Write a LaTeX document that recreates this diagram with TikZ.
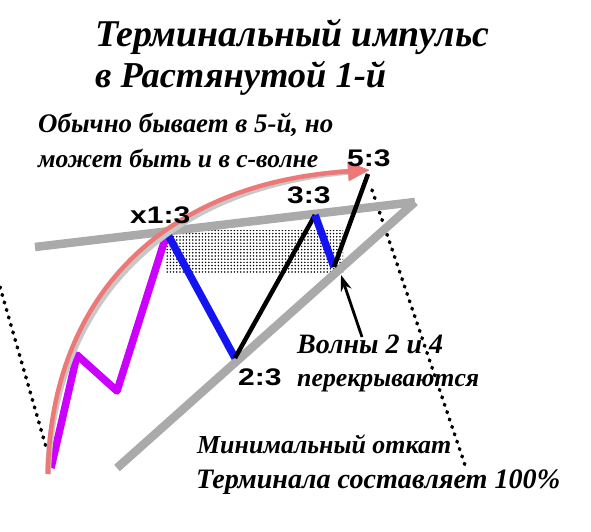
\documentclass[tikz,border=0pt]{standalone}
\usepackage{fontspec}
\setmainfont{Liberation Serif}
\newfontfamily\scrfont{Liberation Serif}
\newfontfamily\lblfont{Liberation Sans}
\usetikzlibrary{arrows.meta,patterns}
\pgfdeclarepatternformonly{stipple}{\pgfqpoint{-1pt}{-1pt}}{\pgfqpoint{4pt}{4pt}}{\pgfqpoint{3.2pt}{3.2pt}}{%
  \pgfpathcircle{\pgfqpoint{0.8pt}{0.8pt}}{0.85pt}\pgfusepath{fill}}
\definecolor{wgray}{RGB}{170,170,170}
\definecolor{wmag}{RGB}{204,0,255}
\definecolor{wblue}{RGB}{20,20,240}
\definecolor{wpink}{RGB}{238,120,120}
\definecolor{wshadow}{RGB}{200,200,200}
\newcommand{\fitw}[2]{\resizebox{#1}{!}{\scrfont\bfseries\itshape #2}}
\newcommand{\lb}[1]{\scalebox{1.25}[1]{\lblfont\bfseries\fontsize{24}{24}\selectfont #1}}
\begin{document}
\begin{tikzpicture}[x=1pt,y=-1pt,
  gline/.style={draw=wgray,line width=8.5pt},
  magline/.style={draw=wmag,line width=7.5pt,line join=round},
  blueline/.style={draw=wblue,line width=7.5pt},
  blackline/.style={draw=black,line width=4.5pt},
  pinkarc/.style={draw=wpink,line width=4.5pt,-{Triangle[length=22pt,width=18pt]}},
  shadowarc/.style={draw=wshadow,line width=6pt,-{Triangle[length=22pt,width=18pt]}},
  dotline/.style={draw=black,line width=3.6pt,dash pattern=on 1pt off 6.8pt,line cap=round},
  txt/.style={anchor=base west,inner sep=0pt},
  lbl/.style={anchor=base west,inner sep=0pt}]
\useasboundingbox (0,0) rectangle (591,532);
\fill[white] (0,0) rectangle (591,532);
% points
\coordinate (w0) at (51,468);
\coordinate (w1a) at (77,355);
\coordinate (w1b) at (117,391);
\coordinate (x1) at (167,233);
\coordinate (p2) at (235,358);
\coordinate (p3) at (315,215);
\coordinate (p4) at (334,267);
\coordinate (p5) at (368,174);
\coordinate (gtip) at (415,202);
\coordinate (gu) at (35,247);
\coordinate (gl) at (117,468);
\coordinate (a0) at (48,474);
\coordinate (a1) at (370,170);
\coordinate (d1s) at (0,287);
\coordinate (d1e) at (46,447);
\coordinate (d2s) at (372,190);
\coordinate (d2e) at (466,468);
\coordinate (at) at (362,337);
\coordinate (ah) at (341,275);
% dotted overlap zone
\fill[pattern=stipple,pattern color=black] (165,230) rectangle (343,272);
% dotted lines
\draw[dotline] (d1s) -- (d1e);
\draw[dotline] (d2s) -- (d2e);
% channel lines
\draw[gline] (gu) -- (gtip);
\draw[gline] (gl) -- (gtip);
% waves
\draw[magline] (w0) -- (w1a) -- (w1b) -- (x1);
\draw[blueline] (x1) -- (p2);
\draw[blackline] (p2) -- (p3);
\draw[blueline] (p3) -- (p4);
\draw[blackline] (p4) -- (p5);
% pink arc with shadow
\begin{scope}[xshift=3pt,yshift=-4pt]
\draw[shadowarc] (a0) .. controls (50,300) and (160,183) .. (a1);
\end{scope}
\draw[pinkarc] (a0) .. controls (50,300) and (160,183) .. (a1);
% pointer arrow
\draw[black,line width=2.8pt,-{Stealth[length=16pt,width=11pt]}] (at) -- (ah);
% labels
\node[lbl] (lx1) at (130,223) {\lb{x1:3}};
\node[lbl] (l33) at (287,203) {\lb{3:3}};
\node[lbl] (l53) at (347,166) {\lb{5:3}};
\node[lbl] (l23) at (238,385) {\lb{2:3}};
% texts
\node[txt] (t1) at (95,47) {\fitw{394pt}{Терминальный импульс}};
\node[txt] (t2) at (95,88) {\fitw{291pt}{в Растянутой 1-й}};
\node[txt] (t3) at (38,132) {\fitw{295pt}{Обычно бывает в 5-й, но}};
\node[txt] (t4) at (38,167) {\fitw{280pt}{может быть и в с-волне}};
\node[txt] (t5) at (297,353) {\fitw{146pt}{Волны 2 и 4}};
\node[txt] (t6) at (297,386) {\fitw{182pt}{перекрываются}};
\node[txt] (t7) at (197,453) {\fitw{254pt}{Минимальный откат}};
\node[txt] (t8) at (196,488) {\fitw{364pt}{Терминала составляет 100\%}};
\end{tikzpicture}
\end{document}
